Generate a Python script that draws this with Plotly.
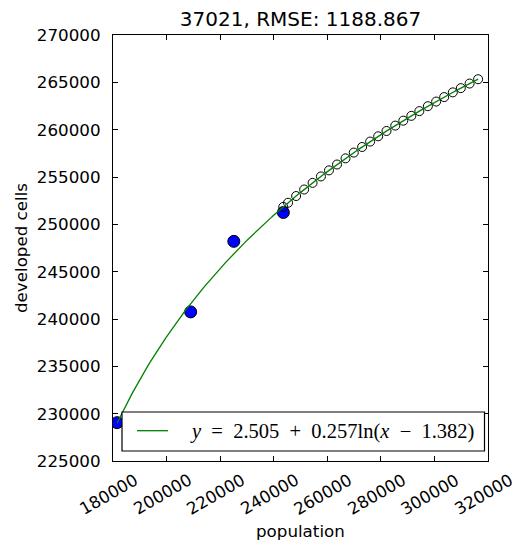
import numpy as np
import plotly.graph_objects as go

# observed data
obs_pop = [181500, 209000, 225100, 243600]
obs_cells = [229050, 240750, 248200, 251250]

# projected points
proj_pop = [243560, 245360, 248360, 251360, 254510, 257630, 260630, 263630,
            266810, 269890, 273000, 276000, 279000, 282110, 285380, 288380,
            291380, 294380, 297560, 300640, 303640, 306860, 309860, 313130, 316310]
proj_cells = [251840, 252280, 252990, 253680, 254380, 255060, 255700, 256320,
              256970, 257580, 258170, 258740, 259300, 259860, 260430, 260950,
              261460, 261960, 262480, 262970, 263440, 263940, 264390, 264870, 265330]

# fit parameters (from legend), in units of 1e5
fit_a, fit_b, fit_c = 2.505, 0.257, 1.382
fit_scale = 1e5

x_ticks = [180000, 200000, 220000, 240000, 260000, 280000, 300000, 320000]
y_ticks = [225000, 230000, 235000, 240000, 245000, 250000, 255000, 260000, 265000, 270000]

title_text = "37021, RMSE: 1188.867"
NB = "\u00a0"
legend_text = (f"<i>y</i>{NB} ={NB} 2.505{NB} +{NB} 0.257ln(<i>x</i>{NB} −{NB} 1.382)")

fit_x = np.linspace(obs_pop[0], proj_pop[-1], 300)
fit_y = fit_scale * (fit_a + fit_b * np.log(fit_x / fit_scale - fit_c))

FONT = "DejaVu Sans"
OFF = 8  # page body margin offset
W, H = 524 - OFF, 544 - OFF
L, R, T, B = 113, 488, 35, 461  # plot area in reference pixels
PW, PH = R - L, B - T

def px(xp):
    return (xp - L) / PW

def py(yp):
    return (B - yp) / PH

fig = go.Figure()
fig.add_trace(go.Scatter(x=obs_pop, y=obs_cells, mode="markers",
                         marker=dict(size=12, color="#0000ff", line=dict(color="black", width=1)),
                         showlegend=False))
fig.add_trace(go.Scatter(x=proj_pop, y=proj_cells, mode="markers",
                         marker=dict(size=9, symbol="circle-open", color="black", line=dict(width=1)),
                         showlegend=False))
fig.add_trace(go.Scatter(x=fit_x, y=fit_y, mode="lines",
                         line=dict(color="#008000", width=1.3), showlegend=False))

axis_common = dict(showgrid=False, zeroline=False, showline=True, linecolor="black", linewidth=1.3,
                   mirror="allticks", ticks="inside", ticklen=5, tickwidth=1, tickcolor="black")

fig.update_xaxes(range=[180000, 320000], tickvals=x_ticks, showticklabels=False, **axis_common)
fig.update_yaxes(range=[225000, 270000], tickvals=y_ticks, tickformat="d",
                 tickfont=dict(family=FONT, size=16.7, color="black"), ticklabelstandoff=8,
                 title=dict(text="developed cells", font=dict(family=FONT, size=16.7, color="black"), standoff=4),
                 **axis_common)

annotations = []
for t in x_ticks:
    annotations.append(dict(x=t, xref="x", y=0, yref="paper", text=str(t), showarrow=False,
                            textangle=-30, xanchor="center", yanchor="top", yshift=-6, xshift=-4,
                            font=dict(family=FONT, size=16.7, color="black")))
annotations.append(dict(x=0.5, xref="paper", y=py(531), yref="paper", text="population", showarrow=False,
                        xanchor="center", yanchor="middle", font=dict(family=FONT, size=16.7, color="black")))
annotations.append(dict(x=px(188), xref="paper", y=py(431), yref="paper", text=legend_text, showarrow=False,
                        xanchor="left", yanchor="middle",
                        font=dict(family="Liberation Serif", size=20.5, color="black")))

shapes = [
    dict(type="rect", xref="paper", yref="paper", x0=px(122), x1=px(484.5), y0=py(451), y1=py(412),
         fillcolor="white", line=dict(color="black", width=1.2), layer="above"),
    dict(type="line", xref="paper", yref="paper", x0=px(137), x1=px(168), y0=py(430.7), y1=py(430.7),
         line=dict(color="#008000", width=1.3), layer="above"),
]

fig.update_layout(
    width=W, height=H, autosize=False,
    margin=dict(l=L - OFF, r=524 - R, t=T - OFF, b=544 - B, pad=0),
    paper_bgcolor="white", plot_bgcolor="white",
    title=dict(text=title_text, x=0.5, xref="paper", xanchor="center",
               y=1 - (19 - OFF) / H, yref="container", yanchor="middle",
               font=dict(family=FONT, size=20, color="black")),
    annotations=annotations, shapes=shapes, showlegend=False,
)

fig.write_html("out.html")
